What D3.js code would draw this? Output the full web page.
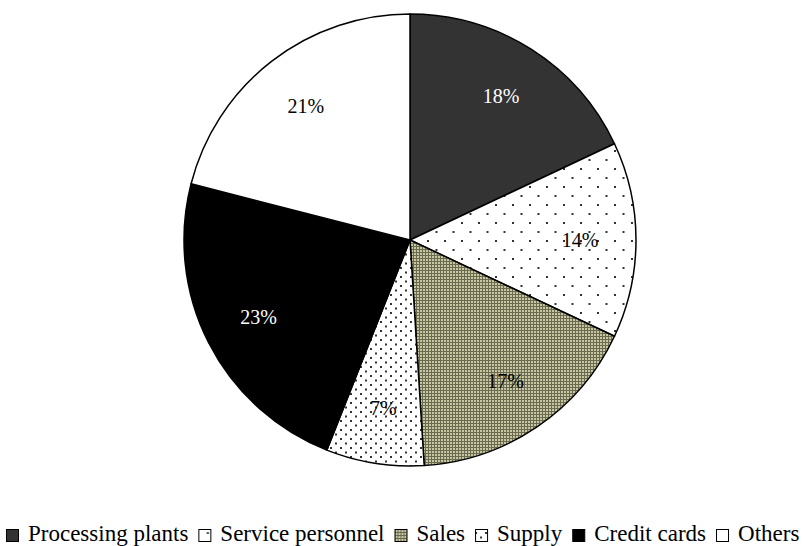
<!DOCTYPE html>
<html><head><meta charset="utf-8">
<script src="https://cdn.jsdelivr.net/npm/d3@7"></script>
<style>body{margin:0;background:#fff}svg{display:block}text{font-family:"Liberation Serif","Times New Roman",serif}</style>
</head><body>
<svg id="c" width="805" height="546"></svg>
<script>
const categories = ["Processing plants","Service personnel","Sales","Supply","Credit cards","Others"];
const values = [18,14,17,7,23,21];
const labels = ["18%","14%","17%","7%","23%","21%"];
const fills = ["#333333","url(#pSvc)","url(#pSales)","url(#pSup)","#000000","#ffffff"];
const labelColors = ["#ffffff","#000000","#000000","#000000","#ffffff","#000000"];

const svg = d3.select("#c");
const defs = svg.append("defs");
// Service personnel: sparse dots
const p1 = defs.append("pattern").attr("id","pSvc").attr("patternUnits","userSpaceOnUse").attr("width",17).attr("height",18);
p1.append("rect").attr("width",17).attr("height",18).attr("fill","#fff");
p1.append("rect").attr("x",0).attr("y",0).attr("width",2).attr("height",2).attr("fill","#333");
p1.append("rect").attr("x",8.5).attr("y",9).attr("width",2).attr("height",2).attr("fill","#333");
// Sales: fine grid
const p2 = defs.append("pattern").attr("id","pSales").attr("patternUnits","userSpaceOnUse").attr("width",3).attr("height",3);
p2.append("rect").attr("width",3).attr("height",3).attr("fill","#6a6a52");
p2.append("rect").attr("x",1).attr("y",1).attr("width",2).attr("height",2).attr("fill","#c8c8a0");
// Supply: denser dots
const p3 = defs.append("pattern").attr("id","pSup").attr("patternUnits","userSpaceOnUse").attr("width",10).attr("height",9);
p3.append("rect").attr("width",10).attr("height",9).attr("fill","#fff");
p3.append("rect").attr("x",0).attr("y",0).attr("width",2).attr("height",2).attr("fill","#333");
p3.append("rect").attr("x",5).attr("y",4.5).attr("width",2).attr("height",2).attr("fill","#333");

const cx = 410, cy = 240, R = 226;
const pie = d3.pie().sort(null).value(d=>d)(values);
const arc = d3.arc().innerRadius(0).outerRadius(R);
const labArc = d3.arc().innerRadius(170).outerRadius(170);
const g = svg.append("g").attr("transform",`translate(${cx},${cy})`);
g.selectAll("path").data(pie).join("path")
  .attr("d",arc).attr("fill",(d,i)=>fills[i])
  .attr("stroke","#000").attr("stroke-width",1.5).attr("stroke-linejoin","round");
g.selectAll("text").data(pie).join("text")
  .attr("transform",d=>`translate(${labArc.centroid(d)})`)
  .attr("text-anchor","middle").attr("dy","0.35em")
  .attr("font-size",20)
  .attr("fill",(d,i)=>labelColors[i])
  .text((d,i)=>labels[i]);

// legend
const lg = svg.append("g");
const fs = 23, box = 12, gap1 = 10, gap2 = 10;
let x = 0;
categories.forEach((c,i)=>{
  const it = lg.append("g");
  it.append("rect").attr("x",0.5).attr("y",-box+0.5).attr("width",box).attr("height",box)
    .attr("fill",fills[i]).attr("stroke","#000").attr("stroke-width",1);
  const t = it.append("text").attr("x",box+gap1).attr("y",0)
    .attr("font-size",fs).attr("fill","#000").text(c);
  const w = box+gap1+t.node().getComputedTextLength();
  it.attr("transform",`translate(${x},0)`);
  x += w + gap2;
});
const total = x - gap2;
lg.attr("transform",`translate(${Math.round((805-total)/2)},${541})`);
</script>
</body></html>
